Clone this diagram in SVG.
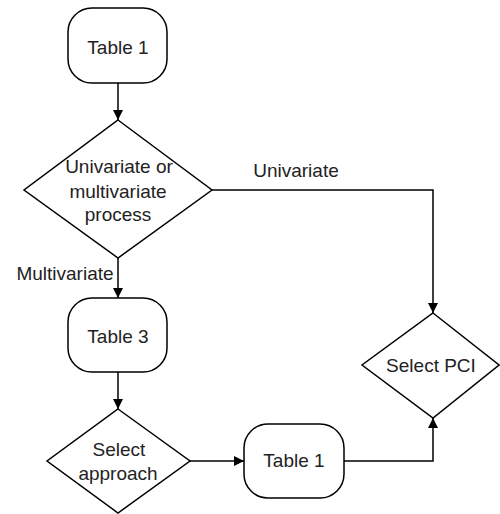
<svg xmlns="http://www.w3.org/2000/svg" width="500" height="514" viewBox="0 0 500 514">
<style>
.s{fill:#fff;stroke:#000;stroke-width:1.5}
.c{fill:none;stroke:#000;stroke-width:1.5}
text{font-family:"Liberation Sans",Arial,sans-serif;font-size:19px;fill:#222;text-anchor:middle}
</style>
<defs>
<marker id="a" markerWidth="10" markerHeight="10" refX="10" refY="5" orient="auto" markerUnits="userSpaceOnUse">
<path d="M0,0L10,5L0,10Z" fill="#000"/>
</marker>
</defs>
<rect width="500" height="514" fill="#fff"/>
<g id="connectors">
<path class="c" d="M118,83V120" marker-end="url(#a)"/>
<path class="c" d="M212,190H433V313" marker-end="url(#a)"/>
<path class="c" d="M118,258V298" marker-end="url(#a)"/>
<path class="c" d="M118,372V409" marker-end="url(#a)"/>
<path class="c" d="M190,461H244" marker-end="url(#a)"/>
<path class="c" d="M344,461H433V418" marker-end="url(#a)"/>
<text x="296" y="177">Univariate</text>
<text x="65" y="280">Multivariate</text>
</g>
<g id="table1-top">
<rect class="s" x="68" y="8" width="99" height="75" rx="24"/>
<text x="118" y="54">Table 1</text>
</g>
<g id="decision-process">
<path class="s" d="M118,120L212,190L118,258L24,190Z"/>
<text x="119" y="173">Univariate or</text>
<text x="118" y="198">multivariate</text>
<text x="118" y="221">process</text>
</g>
<g id="table3">
<rect class="s" x="68" y="298" width="99" height="74" rx="24"/>
<text x="118" y="343">Table 3</text>
</g>
<g id="select-approach">
<path class="s" d="M118,409L190,461L118,513L47,461Z"/>
<text x="119" y="456">Select</text>
<text x="118" y="480">approach</text>
</g>
<g id="table1-bottom">
<rect class="s" x="244" y="424" width="100" height="74" rx="24"/>
<text x="294" y="467">Table 1</text>
</g>
<g id="select-pci">
<path class="s" d="M433,313L499,365L433,418L362,365Z"/>
<text x="431" y="372">Select PCI</text>
</g>
</svg>
